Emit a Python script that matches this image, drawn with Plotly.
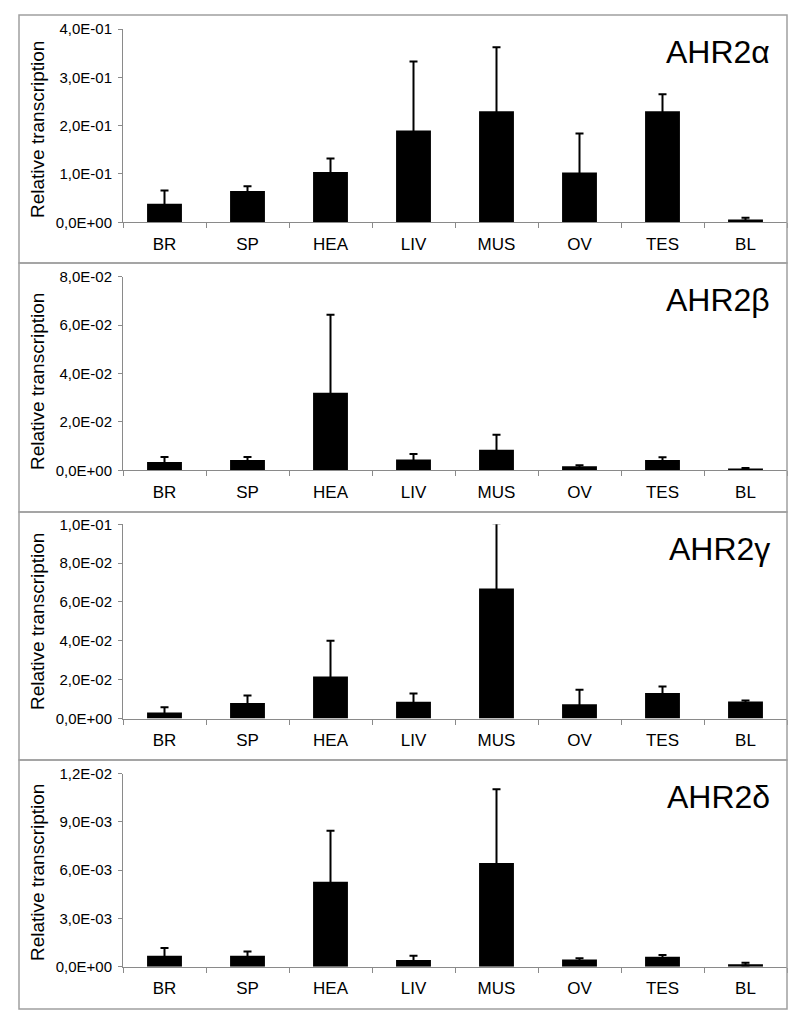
import plotly.graph_objects as go
from plotly.subplots import make_subplots

# ---------------- data ----------------
categories = ["BR", "SP", "HEA", "LIV", "MUS", "OV", "TES", "BL"]
gene_names = ["AHR2α", "AHR2β", "AHR2γ", "AHR2δ"]

alpha_values = [0.0385, 0.065, 0.104, 0.190, 0.230, 0.103, 0.230, 0.006]
alpha_errors = [0.0275, 0.0095, 0.028, 0.143, 0.132, 0.081, 0.035, 0.0035]

beta_values = [0.0034, 0.0043, 0.032, 0.0045, 0.0085, 0.0017, 0.0043, 0.0007]
beta_errors = [0.0021, 0.0012, 0.0323, 0.0022, 0.0062, 0.0004, 0.0011, 0.0003]

gamma_values = [0.0031, 0.008, 0.0216, 0.0086, 0.067, 0.0074, 0.0131, 0.0088]
gamma_errors = [0.0027, 0.0039, 0.0184, 0.0043, 0.0335, 0.0074, 0.0034, 0.0005]

delta_values = [0.00068, 0.00068, 0.00528, 0.00042, 0.00645, 0.00044, 0.00062, 0.00015]
delta_errors = [0.00048, 0.00027, 0.00318, 0.00026, 0.00458, 0.00008, 0.00011, 0.0001]

alpha_tickvals = [0, 0.1, 0.2, 0.3, 0.4]
alpha_ticktext = ["0,0E+00", "1,0E-01", "2,0E-01", "3,0E-01", "4,0E-01"]
beta_tickvals = [0, 0.02, 0.04, 0.06, 0.08]
beta_ticktext = ["0,0E+00", "2,0E-02", "4,0E-02", "6,0E-02", "8,0E-02"]
gamma_tickvals = [0, 0.02, 0.04, 0.06, 0.08, 0.1]
gamma_ticktext = ["0,0E+00", "2,0E-02", "4,0E-02", "6,0E-02", "8,0E-02", "1,0E-01"]
delta_tickvals = [0, 0.003, 0.006, 0.009, 0.012]
delta_ticktext = ["0,0E+00", "3,0E-03", "6,0E-03", "9,0E-03", "1,2E-02"]

y_title = "Relative transcription"

panels = [
    (alpha_values, alpha_errors, alpha_tickvals, alpha_ticktext),
    (beta_values, beta_errors, beta_tickvals, beta_ticktext),
    (gamma_values, gamma_errors, gamma_tickvals, gamma_ticktext),
    (delta_values, delta_errors, delta_tickvals, delta_ticktext),
]

# ---------------- layout geometry (pixels) ----------------
W, H = 808, 1027
FONT = "Liberation Sans, Arial, Helvetica, sans-serif"
panel_edges = [15, 263, 512, 760, 1009]
plot_top = [29, 276.7, 524.3, 773.7]
plot_zero = [222.3, 470.3, 718.5, 966.7]
ytitle_center = [130, 382, 622, 873]
box_left, box_right = 19, 787
plot_left, plot_right = 123, 787

fig = make_subplots(rows=4, cols=1)

for i, (vals, errs, tv, tt) in enumerate(panels):
    r = i + 1
    fig.add_trace(
        go.Bar(
            x=categories,
            y=vals,
            marker=dict(color="black", line=dict(width=0)),
            error_y=dict(
                type="data",
                array=errs,
                # lower whisker kept inside the black bar so only the upper one shows
                arrayminus=[v / 2 for v in vals],
                symmetric=False,
                color="black",
                thickness=2,
                width=4,
            ),
            showlegend=False,
        ),
        row=r,
        col=1,
    )
    xname = "xaxis" if i == 0 else f"xaxis{r}"
    yname = "yaxis" if i == 0 else f"yaxis{r}"
    fig.layout[xname].update(
        domain=[plot_left / W, plot_right / W],
        automargin=False,
        showline=True,
        linecolor="#8a8a8a",
        linewidth=1,
        ticks="outside",
        ticklen=5,
        tickcolor="#8a8a8a",
        tickson="boundaries",
        showgrid=False,
        tickfont=dict(family=FONT, size=17, color="black"),
        ticklabelstandoff=6,
    )
    fig.layout[yname].update(
        domain=[1 - plot_zero[i] / H, 1 - plot_top[i] / H],
        automargin=False,
        range=[0, tv[-1]],
        tickvals=tv,
        ticktext=tt,
        showline=True,
        linecolor="#8a8a8a",
        linewidth=1,
        ticks="outside",
        ticklen=4,
        tickcolor="#8a8a8a",
        showgrid=False,
        zeroline=False,
        tickfont=dict(family=FONT, size=15, color="black"),
        ticklabelstandoff=3,
    )
    fig.add_shape(
        type="rect",
        xref="paper",
        yref="paper",
        x0=box_left / W,
        x1=box_right / W,
        y0=1 - panel_edges[i + 1] / H,
        y1=1 - panel_edges[i] / H,
        line=dict(color="#a0a0a0", width=1.5),
        fillcolor="rgba(0,0,0,0)",
        layer="above",
    )
    fig.add_annotation(
        text=y_title,
        xref="paper",
        yref="paper",
        x=37 / W,
        y=1 - ytitle_center[i] / H,
        textangle=-90,
        showarrow=False,
        xanchor="center",
        yanchor="middle",
        font=dict(family=FONT, size=19, color="black"),
    )
    fig.add_annotation(
        text=gene_names[i],
        xref="paper",
        yref="paper",
        x=772 / W,
        y=1 - (panel_edges[i] + 37) / H,
        showarrow=False,
        xanchor="right",
        yanchor="middle",
        font=dict(family=FONT, size=32, color="black"),
    )

fig.update_layout(
    width=W,
    height=H,
    autosize=False,
    margin=dict(l=0, r=0, t=0, b=0, pad=0, autoexpand=False),
    paper_bgcolor="white",
    plot_bgcolor="white",
    bargap=0.58,
    showlegend=False,
)

fig.write_html(
    "out.html",
    config={"responsive": False, "displayModeBar": False},
    post_script="document.body.style.margin='0';",
)
